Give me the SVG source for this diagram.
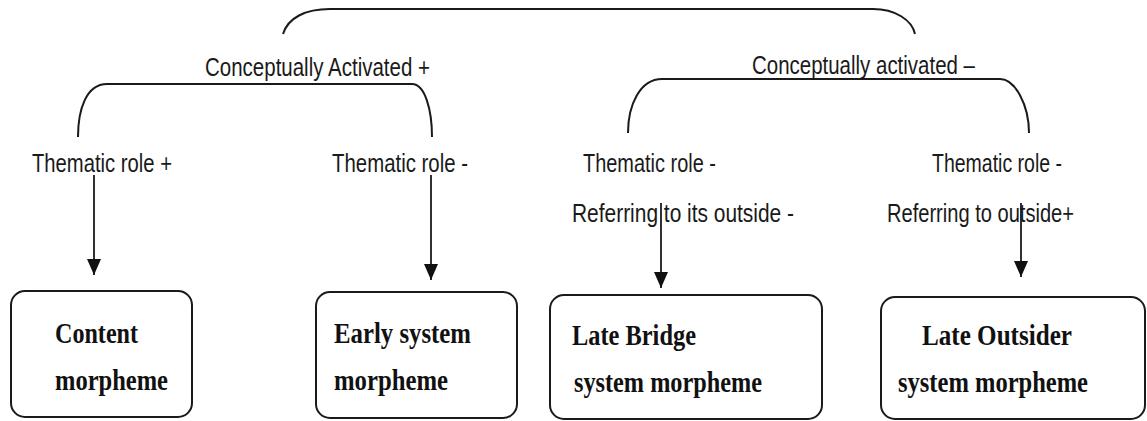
<svg xmlns="http://www.w3.org/2000/svg" width="1147" height="421" viewBox="0 0 1147 421">
<style>
.br{fill:none;stroke:#1a1a1a;stroke-width:2}
.ln{fill:none;stroke:#1a1a1a;stroke-width:1.8}
.lab{font-family:"Liberation Sans",Arial,sans-serif;font-size:26px;fill:#1a1a1a}
.box{fill:#fff;stroke:#1a1a1a;stroke-width:2}
.bt{font-family:"Liberation Serif","Times New Roman",serif;font-size:29px;font-weight:bold;fill:#111}
</style>
<defs>
<marker id="ah" markerWidth="16" markerHeight="14" refX="16" refY="7" orient="auto" markerUnits="userSpaceOnUse" viewBox="0 0 16 14">
<path d="M0,0 L16,7 L0,14 Z" fill="#111"/>
</marker>
</defs>
<rect width="1147" height="421" fill="#fff"/>
<g id="connectors">
<path class="br" d="M283,34 C288,18 305,9 330,9 L873,9 C895,9 912,20 915,34"/>
<path class="br" d="M78,137 C78,110 86,84 107,84 L412,84 C425,84 432,110 432,137"/>
<path class="br" d="M628,133 C628,105 640,79 662,79 L1000,79 C1015,79 1029,105 1029,133"/>
<line class="ln" x1="94" y1="175" x2="94" y2="275" marker-end="url(#ah)"/>
<line class="ln" x1="431" y1="175" x2="431" y2="280" marker-end="url(#ah)"/>
<line class="ln" x1="661" y1="203" x2="661" y2="288" marker-end="url(#ah)"/>
<line class="ln" x1="1021" y1="203" x2="1021" y2="277" marker-end="url(#ah)"/>
</g>
<g id="lbl-ca-plus"><text class="lab" x="205" y="76" textLength="225" lengthAdjust="spacingAndGlyphs">Conceptually Activated +</text></g>
<g id="lbl-ca-minus"><text class="lab" x="752" y="74" textLength="223" lengthAdjust="spacingAndGlyphs">Conceptually activated –</text></g>
<g id="lbl-tr1"><text class="lab" x="32" y="172" textLength="140" lengthAdjust="spacingAndGlyphs">Thematic role +</text></g>
<g id="lbl-tr2"><text class="lab" x="332" y="172" textLength="136" lengthAdjust="spacingAndGlyphs">Thematic role -</text></g>
<g id="lbl-tr3"><text class="lab" x="583" y="172" textLength="133" lengthAdjust="spacingAndGlyphs">Thematic role -</text>
<text class="lab" x="572" y="222" textLength="222" lengthAdjust="spacingAndGlyphs">Referring to its outside -</text></g>
<g id="lbl-tr4"><text class="lab" x="932" y="172" textLength="130" lengthAdjust="spacingAndGlyphs">Thematic role -</text>
<text class="lab" x="887" y="222" textLength="187" lengthAdjust="spacingAndGlyphs">Referring to outside+</text></g>
<g id="node-content">
<rect class="box" x="11" y="291" width="181" height="126" rx="14"/>
<text class="bt" x="55" y="343" textLength="83" lengthAdjust="spacingAndGlyphs">Content</text>
<text class="bt" x="55" y="390" textLength="113" lengthAdjust="spacingAndGlyphs">morpheme</text>
</g>
<g id="node-early">
<rect class="box" x="316" y="292" width="201" height="126" rx="14"/>
<text class="bt" x="334" y="343" textLength="137" lengthAdjust="spacingAndGlyphs">Early system</text>
<text class="bt" x="334" y="390" textLength="114" lengthAdjust="spacingAndGlyphs">morpheme</text>
</g>
<g id="node-bridge">
<rect class="box" x="550" y="295" width="272" height="124" rx="14"/>
<text class="bt" x="572" y="345" textLength="124" lengthAdjust="spacingAndGlyphs">Late Bridge</text>
<text class="bt" x="574" y="392" textLength="188" lengthAdjust="spacingAndGlyphs">system morpheme</text>
</g>
<g id="node-outsider">
<rect class="box" x="881" y="297" width="264" height="122" rx="14"/>
<text class="bt" x="922" y="345" textLength="150" lengthAdjust="spacingAndGlyphs">Late Outsider</text>
<text class="bt" x="898" y="392" textLength="190" lengthAdjust="spacingAndGlyphs">system morpheme</text>
</g>
</svg>
